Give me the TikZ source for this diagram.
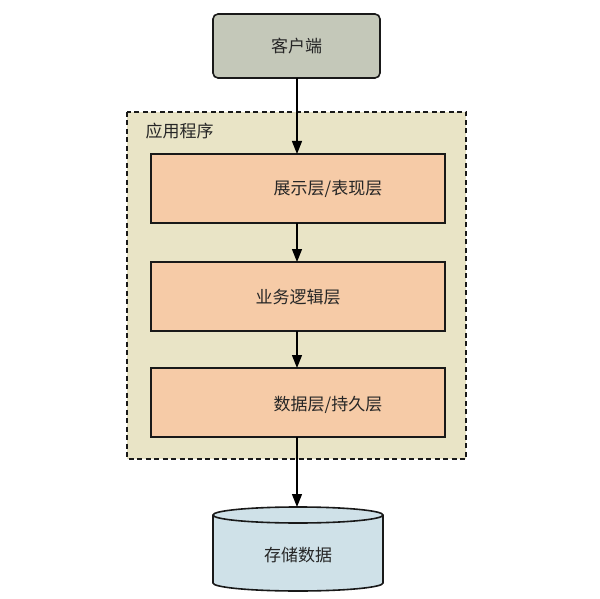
\documentclass[tikz,border=0pt]{standalone}
\usepackage{fontspec}
\newfontfamily\cjk{Noto Sans CJK SC}
\usetikzlibrary{arrows.meta}
\definecolor{clientfill}{HTML}{C4C8B9}
\definecolor{appfill}{HTML}{E9E4C6}
\definecolor{layerfill}{HTML}{F6CBA7}
\definecolor{dbfill}{HTML}{CFE1E8}
\tikzset{
  lbl/.style={font=\cjk\fontsize{17}{19}\selectfont, text=black!85},
  layerbox/.style={draw=black!90, line width=1.6pt, fill=layerfill},
  conn/.style={draw=black, line width=1.4pt, -{Triangle[length=13pt,width=10pt]}},
}
\begin{document}
\begin{tikzpicture}[x=1pt,y=-1pt]
\useasboundingbox (0,0) rectangle (600,599);
\fill[white] (0,0) rectangle (600,599);
% client
\draw[draw=black!90, line width=1.6pt, fill=clientfill, rounded corners=5pt] (213,14) rectangle (380,78);
\node[lbl] (client) at (296.5,46) {客户端};
\coordinate (clientb) at (297,78);
% application container
\draw[draw=black!90, line width=1.4pt, dash pattern=on 5pt off 3.5pt, fill=appfill] (127,112) rectangle (466,459);
\node[lbl, anchor=west] (app) at (142,131) {应用程序};
% layers
\draw[layerbox] (151,154) rectangle (445,223);
\node[lbl] (l1) at (328,189) {展示层/表现层};
\coordinate (l1t) at (297,154); \coordinate (l1b) at (297,223);
\draw[layerbox] (151,262) rectangle (445,331);
\node[lbl] (l2) at (298,297) {业务逻辑层};
\coordinate (l2t) at (297,262); \coordinate (l2b) at (297,331);
\draw[layerbox] (151,368) rectangle (445,437);
\node[lbl] (l3) at (328,405) {数据层/持久层};
\coordinate (l3t) at (297,368); \coordinate (l3b) at (297,437);
% database cylinder
\draw[draw=black!90, line width=1.6pt, fill=dbfill]
  (213,515) -- (213,583) arc[start angle=180, end angle=0, x radius=85, y radius=8]
  -- (383,515) arc[start angle=360, end angle=180, x radius=85, y radius=8] -- cycle;
\draw[draw=black!90, line width=1.6pt] (213,515) arc[start angle=180, end angle=0, x radius=85, y radius=8];
\node[lbl] (db) at (298,555) {存储数据};
\coordinate (dbt) at (297,507);
% connectors
\draw[conn] (clientb) -- (l1t);
\draw[conn] (l1b) -- (l2t);
\draw[conn] (l2b) -- (l3t);
\draw[conn] (l3b) -- (dbt);
\end{tikzpicture}
\end{document}
